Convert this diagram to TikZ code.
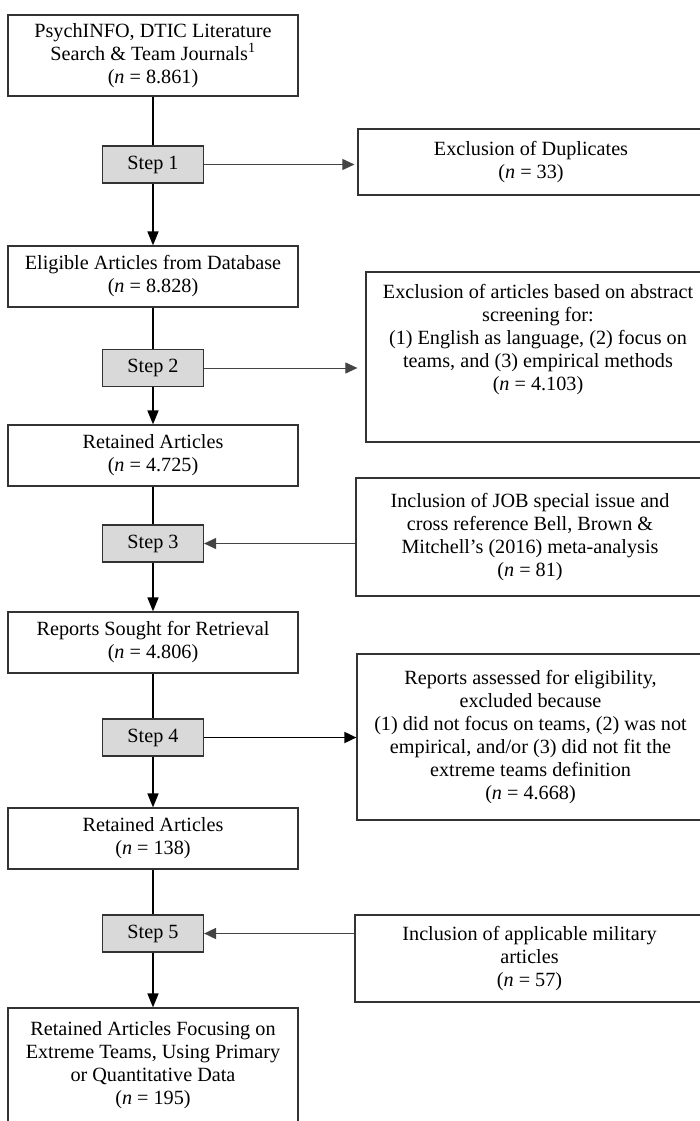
\documentclass[tikz,border=0pt]{standalone}
\usepackage{fontspec}
\setmainfont{Liberation Serif}
\usetikzlibrary{arrows.meta}
\definecolor{boxgray}{HTML}{333333}
\definecolor{stepgray}{HTML}{D9D9D9}
\definecolor{linegray}{HTML}{444444}
\begin{document}
\begin{tikzpicture}[x=1pt,y=-1pt,
  every node/.style={font=\fontsize{20.2}{23}\selectfont, inner sep=0pt, align=center},
  box/.style={draw=boxgray, line width=1.2pt, rectangle},
  lbox/.style={box, minimum width=290pt},
  stepbox/.style={box, fill=stepgray, minimum width=101pt, minimum height=37pt},
  vline/.style={line width=1.7pt, black},
  varrow/.style={vline, -{Triangle[width=11pt,length=14pt]}},
  harrow/.style={line width=1pt, draw=linegray, -{Triangle[width=11pt,length=12pt]}},
  hharrow/.style={line width=1.8pt, -{Triangle[width=11pt,length=12pt]}},
]
\useasboundingbox (0,0) rectangle (700,1121);

% left column
\node[lbox, minimum height=81pt] (b1) at (153,55.5)
  {PsychINFO, DTIC Literature\\Search \& Team Journals\textsuperscript{1}\\(\textit{n} = 8.861)};
\node[stepbox] (s1) at (153,164.5) {Step 1};
\node[lbox, minimum height=61pt] (b2) at (153,276.5)
  {Eligible Articles from Database\\(\textit{n} = 8.828)};
\node[stepbox] (s2) at (153,368) {Step 2};
\node[lbox, minimum height=61pt] (b3) at (153,455.5)
  {Retained Articles\\(\textit{n} = 4.725)};
\node[stepbox] (s3) at (153,543.5) {Step 3};
\node[lbox, minimum height=61pt] (b4) at (153,642.5)
  {Reports Sought for Retrieval\\(\textit{n} = 4.806)};
\node[stepbox] (s4) at (153,737.5) {Step 4};
\node[lbox, minimum height=61pt] (b5) at (153,838.5)
  {Retained Articles\\(\textit{n} = 138)};
\node[stepbox] (s5) at (153,933.5) {Step 5};
\node[lbox, minimum height=115pt] (b6) at (153,1065.5)
  {Retained Articles Focusing on\\Extreme Teams, Using Primary\\or Quantitative Data\\(\textit{n} = 195)};

% right column
\node[box, minimum width=346pt, minimum height=66pt] (r1) at (531,162)
  {Exclusion of Duplicates\\(\textit{n} = 33)};
\node[box, minimum width=338pt, minimum height=170pt] (r2) at (535,357) {};
\node (r2t) at (538,340)
  {Exclusion of articles based on abstract\\screening for:\\(1) English as language, (2) focus on\\teams, and (3) empirical methods\\(\textit{n} = 4.103)};
\node[box, minimum width=348pt, minimum height=118pt] (r3) at (530,537)
  {Inclusion of JOB special issue and\\cross reference Bell, Brown \&\\Mitchell’s (2016) meta-analysis\\(\textit{n} = 81)};
\node[box, minimum width=347pt, minimum height=166pt] (r4) at (530.5,737)
  {Reports assessed for eligibility,\\excluded because\\(1) did not focus on teams, (2) was not\\empirical, and/or (3) did not fit the\\extreme teams definition\\(\textit{n} = 4.668)};
\node[box, minimum width=349pt, minimum height=87pt] (r5) at (529.5,958.5)
  {Inclusion of applicable military\\articles\\(\textit{n} = 57)};

% vertical flow
\draw[vline] (b1.south) -- (s1.north);
\draw[varrow] (s1.south) -- (b2.north);
\draw[vline] (b2.south) -- (s2.north);
\draw[varrow] (s2.south) -- (b3.north);
\draw[vline] (b3.south) -- (s3.north);
\draw[varrow] (s3.south) -- (b4.north);
\draw[vline] (b4.south) -- (s4.north);
\draw[varrow] (s4.south) -- (b5.north);
\draw[vline] (b5.south) -- (s5.north);
\draw[varrow] (s5.south) -- (b6.north);

% horizontal connectors
\draw[harrow, shorten >=3pt] (s1.east) -- (s1.east -| r1.west);
\draw[harrow, shorten >=8pt] (s2.east) -- (s2.east -| r2.west);
\draw[harrow] (s3.east -| r3.west) -- (s3.east);
\draw[hharrow] (s4.east) -- (s4.east -| r4.west);
\draw[hharrow, draw=linegray] (s5.east -| r5.west) -- (s5.east);
\end{tikzpicture}
\end{document}
